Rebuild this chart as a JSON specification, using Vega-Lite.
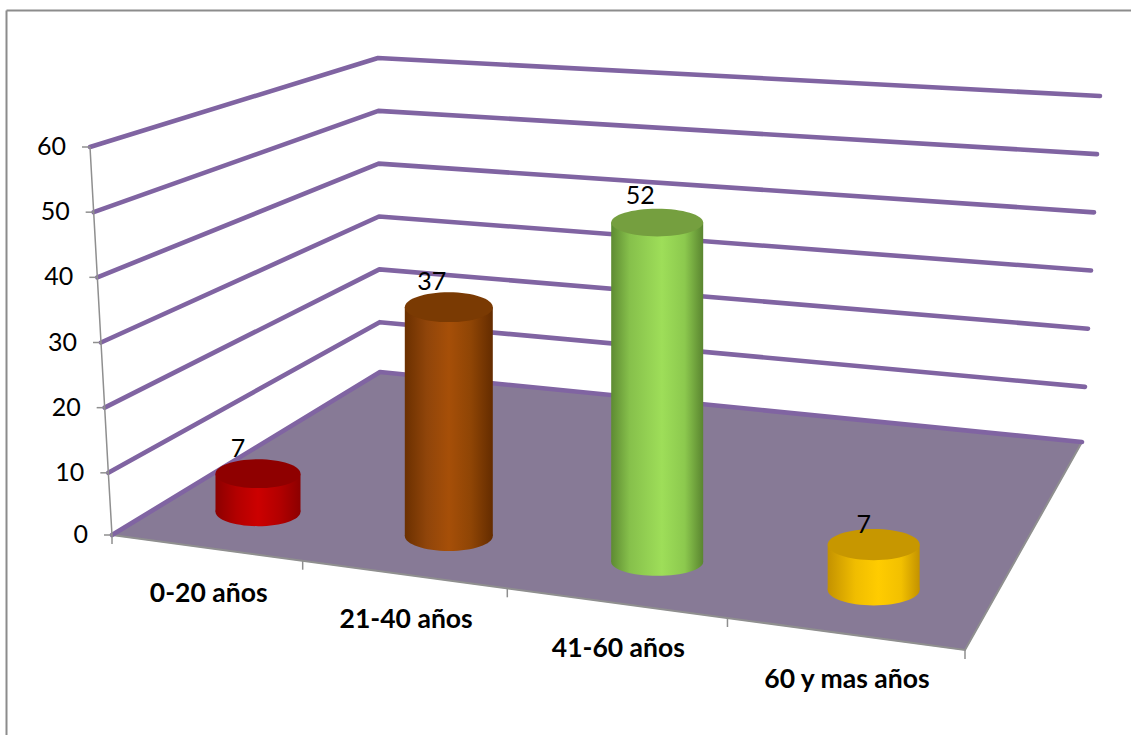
{"$schema":"https://vega.github.io/schema/vega-lite/v6.json","autosize":{"type":"none"},"padding":{"left":6,"top":10,"right":0,"bottom":0},"width":1125,"height":725,"background":"#ffffff","config":{"view":{"stroke":null},"text":{"font":"Lato"},"scale":{"continuousPadding":0},
"axisX":{"orient":"top","labels":false,"ticks":false,"grid":false,"title":null,"domainColor":"#8c8c8c","domainWidth":2},
"axisY":{"orient":"left","labels":false,"ticks":false,"grid":false,"title":null,"domainColor":"#8c8c8c","domainWidth":2}},
"data":{"values":[
{"categoria":"0-20 años","valor":7},{"categoria":"21-40 años","valor":37},{"categoria":"41-60 años","valor":52},{"categoria":"60 y mas años","valor":7},
{"nivel":0,"esquina":"delantera"},
{"nivel":0,"esquina":"frente"},{"nivel":0,"esquina":"fondo"},{"nivel":0,"esquina":"derecha"},
{"nivel":10,"esquina":"frente"},{"nivel":10,"esquina":"fondo"},{"nivel":10,"esquina":"derecha"},
{"nivel":20,"esquina":"frente"},{"nivel":20,"esquina":"fondo"},{"nivel":20,"esquina":"derecha"},
{"nivel":30,"esquina":"frente"},{"nivel":30,"esquina":"fondo"},{"nivel":30,"esquina":"derecha"},
{"nivel":40,"esquina":"frente"},{"nivel":40,"esquina":"fondo"},{"nivel":40,"esquina":"derecha"},
{"nivel":50,"esquina":"frente"},{"nivel":50,"esquina":"fondo"},{"nivel":50,"esquina":"derecha"},
{"nivel":60,"esquina":"frente"},{"nivel":60,"esquina":"fondo"},{"nivel":60,"esquina":"derecha"},
{"corte":0},{"corte":1},{"corte":2},{"corte":3},{"corte":4}
]},
"transform":[
{"calculate":"isValid(datum.categoria)?(indexof(['0-20 años','21-40 años','41-60 años','60 y mas años'],datum.categoria)+0.5)/4:isValid(datum.corte)?datum.corte/4:((datum.esquina=='derecha'||datum.esquina=='delantera')?1:0)","as":"s"},
{"calculate":"isValid(datum.categoria)?0.18:isValid(datum.corte)?0:((datum.esquina=='fondo'||datum.esquina=='derecha')?1:0)","as":"t"},
{"calculate":"isValid(datum.valor)?datum.valor:isValid(datum.nivel)?datum.nivel:0","as":"v"},
{"calculate":"1-0.13631*datum.s+0.23782*datum.t","as":"w"},
{"calculate":"(721.46*datum.s+358.37*datum.t+112)/datum.w","as":"fx"},
{"calculate":"(26.4*datum.s-74.53*datum.t+535)/datum.w","as":"fy"},
{"calculate":"isValid(datum.categoria)?0:(1-datum.s)*(1-datum.t)*-22+(1-datum.s)*datum.t*-2+datum.s*datum.t*18+datum.s*(1-datum.t)*16","as":"dxv"},
{"calculate":"isValid(datum.categoria)?-(294.3+278*datum.s-196*datum.s*datum.s):(1-datum.s)*(1-datum.t)*-388+(1-datum.s)*datum.t*-314+datum.s*datum.t*-346+datum.s*(1-datum.t)*-400","as":"dyv"},
{"calculate":"datum.fx+datum.v/60*datum.dxv","as":"px"},
{"calculate":"datum.fy+datum.v/60*datum.dyv+((datum.nivel>0)?3*(1-datum.v/60):0)","as":"py"},
{"calculate":"datum.esquina=='frente'?0:datum.esquina=='fondo'?1:datum.esquina=='derecha'?2:3","as":"o"},
{"calculate":"datum.py+9","as":"ty"},
{"calculate":"datum.px-8","as":"tx"},
{"calculate":"(721.46*datum.s+112)/(1-0.13631*datum.s)","as":"ex"},
{"calculate":"(26.4*datum.s+535)/(1-0.13631*datum.s)","as":"ey"}
],
"encoding":{
"x":{"field":"px","type":"quantitative","scale":{"domain":[6,1131],"nice":false,"zero":false,"padding":0}},
"y":{"field":"py","type":"quantitative","scale":{"domain":[735,10],"nice":false,"zero":false,"padding":0}}
},
"layer":[
{"transform":[{"filter":"datum.nivel===0"}],"mark":{"type":"line","interpolate":"linear-closed","fill":"#877a96","stroke":"#877a96","strokeWidth":0.5},"encoding":{"order":{"field":"o","type":"quantitative"}}},
{"transform":[{"filter":"datum.nivel===0&&datum.esquina!='fondo'"}],"mark":{"type":"line","stroke":"#8f8f8f","strokeWidth":2}},
{"transform":[{"filter":"isValid(datum.nivel)&&datum.esquina!='delantera'"}],"mark":{"type":"line","stroke":"#8064a2","strokeWidth":4.6,"strokeCap":"round","strokeJoin":"round"},"encoding":{"detail":{"field":"nivel"},"order":{"field":"o","type":"quantitative"}}},
{"transform":[{"filter":"datum.esquina=='frente'"}],"mark":{"type":"line","stroke":"#8f8f8f","strokeWidth":1.5}},
{"transform":[{"filter":"datum.esquina=='frente'"}],"mark":{"type":"rule","stroke":"#8f8f8f","strokeWidth":1.5},"encoding":{"x":{"field":"tx","type":"quantitative","scale":{"domain":[6,1131],"nice":false,"zero":false,"padding":0}},"x2":{"field":"px"}}},
{"transform":[{"filter":"isValid(datum.corte)"}],"mark":{"type":"rule","stroke":"#8f8f8f","strokeWidth":1.5},"encoding":{"y2":{"field":"ty"}}},
{"transform":[{"filter":"datum.esquina=='frente'"}],"mark":{"type":"text","align":"right","baseline":"middle","dx":-24,"fontSize":25,"color":"#000000"},"encoding":{"text":{"field":"nivel","type":"nominal"}}},

{"transform":[{"filter":"datum.categoria=='0-20 años'"}],"mark":{"type":"point","xOffset":-2,"shape":"M-1,0A1,0.34,0,1,1,1,0A1,0.34,0,1,1,-1,0Z","size":7225,"filled":true,"opacity":1,"strokeWidth":0,"fill":{"gradient":"linear","x1":0,"y1":0,"x2":1,"y2":0,"stops":[{"offset":0,"color":"#8c0000"},{"offset":0.25,"color":"#b30000"},{"offset":0.5,"color":"#cc0000"},{"offset":0.75,"color":"#b30000"},{"offset":1,"color":"#8c0000"}]}},"encoding":{"y":{"field":"fy","type":"quantitative","scale":{"domain":[735,10],"nice":false,"zero":false,"padding":0}}}},
{"transform":[{"filter":"datum.categoria=='0-20 años'"}],"mark":{"type":"bar","xOffset":-2,"width":85,"color":{"gradient":"linear","x1":0,"y1":0,"x2":1,"y2":0,"stops":[{"offset":0,"color":"#8c0000"},{"offset":0.25,"color":"#b30000"},{"offset":0.5,"color":"#cc0000"},{"offset":0.75,"color":"#b30000"},{"offset":1,"color":"#8c0000"}]}},"encoding":{"y2":{"field":"fy"}}},
{"transform":[{"filter":"datum.categoria=='0-20 años'"}],"mark":{"type":"point","xOffset":-2,"shape":"M-1,0A1,0.34,0,1,1,1,0A1,0.34,0,1,1,-1,0Z","size":7225,"filled":true,"opacity":1,"strokeWidth":0,"fill":"#8f0000"}},
{"transform":[{"filter":"datum.categoria=='0-20 años'"}],"mark":{"type":"text","dx":-22,"dy":-25,"fontSize":25,"baseline":"middle","color":"#000000"},"encoding":{"text":{"field":"valor","type":"nominal"}}},

{"transform":[{"filter":"datum.categoria=='21-40 años'"}],"mark":{"type":"point","xOffset":-2,"shape":"M-1,0A1,0.34,0,1,1,1,0A1,0.34,0,1,1,-1,0Z","size":7744,"filled":true,"opacity":1,"strokeWidth":0,"fill":{"gradient":"linear","x1":0,"y1":0,"x2":1,"y2":0,"stops":[{"offset":0,"color":"#6b3000"},{"offset":0.25,"color":"#90450a"},{"offset":0.5,"color":"#a64f08"},{"offset":0.75,"color":"#8f4505"},{"offset":1,"color":"#642c00"}]}},"encoding":{"y":{"field":"fy","type":"quantitative","scale":{"domain":[735,10],"nice":false,"zero":false,"padding":0}}}},
{"transform":[{"filter":"datum.categoria=='21-40 años'"}],"mark":{"type":"bar","xOffset":-2,"width":88,"color":{"gradient":"linear","x1":0,"y1":0,"x2":1,"y2":0,"stops":[{"offset":0,"color":"#6b3000"},{"offset":0.25,"color":"#90450a"},{"offset":0.5,"color":"#a64f08"},{"offset":0.75,"color":"#8f4505"},{"offset":1,"color":"#642c00"}]}},"encoding":{"y2":{"field":"fy"}}},
{"transform":[{"filter":"datum.categoria=='21-40 años'"}],"mark":{"type":"point","xOffset":-2,"shape":"M-1,0A1,0.34,0,1,1,1,0A1,0.34,0,1,1,-1,0Z","size":7744,"filled":true,"opacity":1,"strokeWidth":0,"fill":"#7a3a03"}},
{"transform":[{"filter":"datum.categoria=='21-40 años'"}],"mark":{"type":"text","dx":-19,"dy":-25,"fontSize":25,"baseline":"middle","color":"#000000"},"encoding":{"text":{"field":"valor","type":"nominal"}}},

{"transform":[{"filter":"datum.categoria=='41-60 años'"}],"mark":{"type":"point","xOffset":2,"shape":"M-1,0A1,0.3,0,1,1,1,0A1,0.3,0,1,1,-1,0Z","size":8464,"filled":true,"opacity":1,"strokeWidth":0,"fill":{"gradient":"linear","x1":0,"y1":0,"x2":1,"y2":0,"stops":[{"offset":0,"color":"#5e8b32"},{"offset":0.2,"color":"#86c04b"},{"offset":0.55,"color":"#9ede59"},{"offset":0.8,"color":"#8cc94e"},{"offset":1,"color":"#5a8530"}]}},"encoding":{"y":{"field":"fy","type":"quantitative","scale":{"domain":[735,10],"nice":false,"zero":false,"padding":0}}}},
{"transform":[{"filter":"datum.categoria=='41-60 años'"}],"mark":{"type":"bar","xOffset":2,"width":92,"color":{"gradient":"linear","x1":0,"y1":0,"x2":1,"y2":0,"stops":[{"offset":0,"color":"#5e8b32"},{"offset":0.2,"color":"#86c04b"},{"offset":0.55,"color":"#9ede59"},{"offset":0.8,"color":"#8cc94e"},{"offset":1,"color":"#5a8530"}]}},"encoding":{"y2":{"field":"fy"}}},
{"transform":[{"filter":"datum.categoria=='41-60 años'"}],"mark":{"type":"point","xOffset":2,"shape":"M-1,0A1,0.3,0,1,1,1,0A1,0.3,0,1,1,-1,0Z","size":8464,"filled":true,"opacity":1,"strokeWidth":0,"fill":"#759f3f"}},
{"transform":[{"filter":"datum.categoria=='41-60 años'"}],"mark":{"type":"text","dx":-15,"dy":-27,"fontSize":25,"baseline":"middle","color":"#000000"},"encoding":{"text":{"field":"valor","type":"nominal"}}},

{"transform":[{"filter":"datum.categoria=='60 y mas años'"}],"mark":{"type":"point","xOffset":-1,"shape":"M-1,0A1,0.34,0,1,1,1,0A1,0.34,0,1,1,-1,0Z","size":8464,"filled":true,"opacity":1,"strokeWidth":0,"fill":{"gradient":"linear","x1":0,"y1":0,"x2":1,"y2":0,"stops":[{"offset":0,"color":"#c49200"},{"offset":0.3,"color":"#f0bd00"},{"offset":0.55,"color":"#ffcc00"},{"offset":0.8,"color":"#f2c000"},{"offset":1,"color":"#c39200"}]}},"encoding":{"y":{"field":"fy","type":"quantitative","scale":{"domain":[735,10],"nice":false,"zero":false,"padding":0}}}},
{"transform":[{"filter":"datum.categoria=='60 y mas años'"}],"mark":{"type":"bar","xOffset":-1,"width":92,"color":{"gradient":"linear","x1":0,"y1":0,"x2":1,"y2":0,"stops":[{"offset":0,"color":"#c49200"},{"offset":0.3,"color":"#f0bd00"},{"offset":0.55,"color":"#ffcc00"},{"offset":0.8,"color":"#f2c000"},{"offset":1,"color":"#c39200"}]}},"encoding":{"y2":{"field":"fy"}}},
{"transform":[{"filter":"datum.categoria=='60 y mas años'"}],"mark":{"type":"point","xOffset":-1,"shape":"M-1,0A1,0.34,0,1,1,1,0A1,0.34,0,1,1,-1,0Z","size":8464,"filled":true,"opacity":1,"strokeWidth":0,"fill":"#c79700"}},
{"transform":[{"filter":"datum.categoria=='60 y mas años'"}],"mark":{"type":"text","dx":-11,"dy":-20,"fontSize":25,"baseline":"middle","color":"#000000"},"encoding":{"text":{"field":"valor","type":"nominal"}}},

{"transform":[{"filter":"isValid(datum.categoria)"}],"mark":{"type":"text","dy":46,"dx":3,"fontSize":26.5,"fontWeight":"bold","baseline":"middle","color":"#000000"},"encoding":{"x":{"field":"ex","type":"quantitative","scale":{"domain":[6,1131],"nice":false,"zero":false,"padding":0}},"y":{"field":"ey","type":"quantitative","scale":{"domain":[735,10],"nice":false,"zero":false,"padding":0}},"text":{"field":"categoria","type":"nominal"}}}
]}
